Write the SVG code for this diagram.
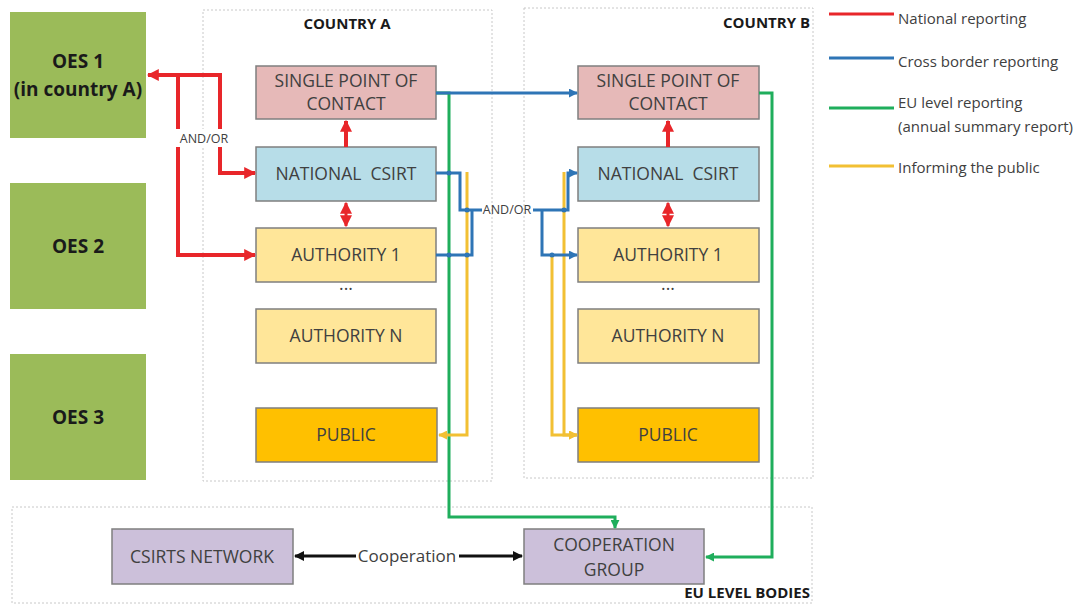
<svg xmlns="http://www.w3.org/2000/svg" width="1084" height="605" viewBox="0 0 1084 605">
<style>
.box{stroke:#7f7f7f;stroke-width:1.5}
.oes{fill:#9bbb59}
.spoc{fill:#e6b9b8}
.csirt{fill:#b7dde8}
.auth{fill:#ffe699}
.pub{fill:#ffc000}
.eu{fill:#ccc0da}
.frame{fill:none;stroke:#c8c8c8;stroke-width:1;stroke-dasharray:2 2}
.t{font-family:"Open Sans","Liberation Sans",sans-serif;fill:#404040;text-anchor:middle;font-size:17.5px}
.tb{font-family:"Open Sans","Liberation Sans",sans-serif;fill:#1a1a1a;font-weight:bold;text-anchor:middle}
.lg{font-family:"Open Sans","Liberation Sans",sans-serif;fill:#404040;font-size:15px}
.sm{font-family:"Open Sans","Liberation Sans",sans-serif;fill:#404040;text-anchor:middle;font-size:12.5px}
.red{stroke:#e8262a;stroke-width:4;fill:none}
.blue{stroke:#2e75b6;stroke-width:3;fill:none}
.green{stroke:#1fae5c;stroke-width:3;fill:none}
.yel{stroke:#f2c033;stroke-width:3;fill:none}
.blk{stroke:#111;stroke-width:3;fill:none}
.lbl{fill:#fff}
</style>
<defs>
<marker id="mr" viewBox="0 0 10 10" refX="9" refY="5" markerWidth="12" markerHeight="12" markerUnits="userSpaceOnUse" orient="auto-start-reverse"><path d="M0,0 L10,5 L0,10 z" fill="#e8262a"/></marker>
<marker id="mb" viewBox="0 0 10 10" refX="9" refY="5" markerWidth="9" markerHeight="9" markerUnits="userSpaceOnUse" orient="auto-start-reverse"><path d="M0,0 L10,5 L0,10 z" fill="#2e75b6"/></marker>
<marker id="mg" viewBox="0 0 10 10" refX="9" refY="5" markerWidth="9" markerHeight="9" markerUnits="userSpaceOnUse" orient="auto-start-reverse"><path d="M0,0 L10,5 L0,10 z" fill="#1fae5c"/></marker>
<marker id="my" viewBox="0 0 10 10" refX="9" refY="5" markerWidth="9" markerHeight="9" markerUnits="userSpaceOnUse" orient="auto-start-reverse"><path d="M0,0 L10,5 L0,10 z" fill="#f2c033"/></marker>
<marker id="mk" viewBox="0 0 10 10" refX="9" refY="5" markerWidth="10" markerHeight="10" markerUnits="userSpaceOnUse" orient="auto-start-reverse"><path d="M0,0 L10,5 L0,10 z" fill="#111"/></marker>
</defs>
<rect width="1084" height="605" fill="#fff"/>

<g id="frames">
<rect class="frame" x="203" y="10" width="289" height="471"/>
<text class="tb" x="347" y="29" font-size="15">COUNTRY A</text>
<rect class="frame" x="524" y="8" width="289" height="470"/>
<text class="tb" x="810" y="28" font-size="15" style="text-anchor:end">COUNTRY B</text>
<rect class="frame" x="12" y="507" width="800" height="96"/>
<text class="tb" x="810" y="598" font-size="15" style="text-anchor:end">EU LEVEL BODIES</text>
</g>

<g id="legend">
<line x1="829" y1="14" x2="894" y2="14" stroke="#e8262a" stroke-width="3"/>
<text class="lg" x="898" y="24">National reporting</text>
<line x1="829" y1="58" x2="894" y2="58" stroke="#2e75b6" stroke-width="3"/>
<text class="lg" x="898" y="67">Cross border reporting</text>
<line x1="829" y1="108" x2="894" y2="108" stroke="#1fae5c" stroke-width="3"/>
<text class="lg" x="898" y="108">EU level reporting</text>
<text class="lg" x="898" y="132">(annual summary report)</text>
<line x1="829" y1="166" x2="894" y2="166" stroke="#f2c033" stroke-width="3"/>
<text class="lg" x="898" y="173">Informing the public</text>
</g>

<g id="oes1"><rect class="oes" x="10" y="12" width="136" height="126"/>
<text class="tb" x="78" y="68" font-size="19">OES 1</text><text class="tb" x="78" y="96" font-size="19">(in country A)</text></g>
<g id="oes2"><rect class="oes" x="10" y="183" width="136" height="126"/>
<text class="tb" x="78" y="253" font-size="19">OES 2</text></g>
<g id="oes3"><rect class="oes" x="10" y="354" width="136" height="126"/>
<text class="tb" x="78" y="424" font-size="19">OES 3</text></g>

<g id="spocA"><rect class="box spoc" x="256" y="66" width="180" height="53"/>
<text class="t" x="346" y="87">SINGLE POINT OF</text><text class="t" x="346" y="110">CONTACT</text></g>
<g id="csirtA"><rect class="box csirt" x="256" y="147" width="180" height="54"/>
<text class="t" x="346" y="180" xml:space="preserve" style="white-space:pre">NATIONAL  CSIRT</text></g>
<g id="auth1A"><rect class="box auth" x="256" y="228" width="180" height="54"/>
<text class="t" x="346" y="261">AUTHORITY 1</text></g>
<text class="t" x="346" y="290" font-size="12">...</text>
<g id="authNA"><rect class="box auth" x="256" y="309" width="180" height="54"/>
<text class="t" x="346" y="342">AUTHORITY N</text></g>
<g id="publicA"><rect class="box pub" x="256" y="408" width="181" height="54"/>
<text class="t" x="346" y="441">PUBLIC</text></g>

<g id="spocB"><rect class="box spoc" x="578" y="66" width="181" height="53"/>
<text class="t" x="668" y="87">SINGLE POINT OF</text><text class="t" x="668" y="110">CONTACT</text></g>
<g id="csirtB"><rect class="box csirt" x="578" y="147" width="181" height="54"/>
<text class="t" x="668" y="180" xml:space="preserve" style="white-space:pre">NATIONAL  CSIRT</text></g>
<g id="auth1B"><rect class="box auth" x="578" y="228" width="181" height="54"/>
<text class="t" x="668" y="261">AUTHORITY 1</text></g>
<text class="t" x="668" y="290" font-size="12">...</text>
<g id="authNB"><rect class="box auth" x="578" y="309" width="181" height="54"/>
<text class="t" x="668" y="342">AUTHORITY N</text></g>
<g id="publicB"><rect class="box pub" x="578" y="408" width="181" height="54"/>
<text class="t" x="668" y="441">PUBLIC</text></g>

<g id="csirtsNet"><rect class="box eu" x="112" y="529" width="181" height="55"/>
<text class="t" x="202" y="563">CSIRTS NETWORK</text></g>
<g id="coopGroup"><rect class="box eu" x="524" y="529" width="180" height="55"/>
<text class="t" x="614" y="551">COOPERATION</text><text class="t" x="614" y="576">GROUP</text></g>

<g id="connectors">
<!-- red national reporting -->
<path class="red" d="M220,173 L220,75 L148,75" marker-end="url(#mr)"/>
<path class="red" d="M220,75 L220,173 L255,173" marker-end="url(#mr)"/>
<path class="red" d="M178,75 L178,255 L255,255" marker-end="url(#mr)"/>
<rect class="lbl" x="175" y="129" width="58" height="18"/>
<text class="sm" x="204" y="143">AND/OR</text>
<path class="red" d="M346,147 L346,121" marker-end="url(#mr)"/>
<path class="red" d="M346,203 L346,226" marker-start="url(#mr)" marker-end="url(#mr)" style="stroke-width:3"/>
<path class="red" d="M668,147 L668,121" marker-end="url(#mr)"/>
<path class="red" d="M668,203 L668,226" marker-start="url(#mr)" marker-end="url(#mr)" style="stroke-width:3"/>

<!-- green EU reporting -->
<path class="green" d="M436,93 L449,93 L449,517 L615,517 L615,528" marker-end="url(#mg)"/>
<path class="green" d="M759,93 L772,93 L772,557 L706,557" marker-end="url(#mg)"/>

<!-- yellow informing the public -->
<path class="yel" d="M467,172 L467,435 L439,435" marker-end="url(#my)"/>
<path class="yel" d="M564,172 L564,435 L577,435" marker-end="url(#my)"/>
<path class="yel" d="M552,257 L552,435 L577,435" marker-end="url(#my)"/>

<!-- blue cross border -->
<path class="blue" d="M436,93 L577,93" marker-end="url(#mb)"/>
<path class="blue" d="M436,173 L460,173 L460,210 L482,210"/>
<path class="blue" d="M436,255 L472,255 L472,210"/>
<text class="sm" x="507" y="214">AND/OR</text>
<path class="blue" d="M533,210 L568,210 L568,173 L577,173" marker-end="url(#mb)"/>
<path class="blue" d="M542,210 L542,255 L577,255" marker-end="url(#mb)"/>
<g fill="#2e75b6"><circle cx="449" cy="173" r="2.5"/><circle cx="449" cy="255" r="2.5"/><circle cx="467" cy="210" r="2.5"/><circle cx="467" cy="255" r="2.5"/><circle cx="564" cy="210" r="2.5"/><circle cx="552" cy="255" r="2.5"/></g>

<!-- black cooperation -->
<path class="blk" d="M295,556 L356,556" marker-start="url(#mk)"/>
<path class="blk" d="M459,556 L522,556" marker-end="url(#mk)"/>
<text x="407" y="562" font-family="'Open Sans','Liberation Sans',sans-serif" font-size="17" fill="#404040" text-anchor="middle">Cooperation</text>
</g>
</svg>
